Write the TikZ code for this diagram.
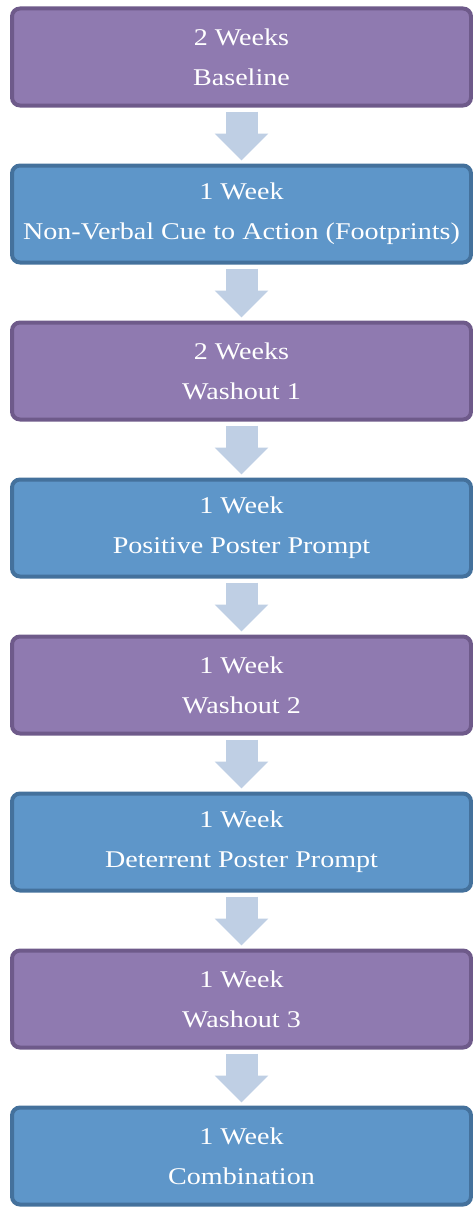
\documentclass[tikz,border=0pt]{standalone}
\usepackage{fontspec}
\setmainfont[FakeStretch=1.17]{Liberation Serif}
\usetikzlibrary{arrows.meta,positioning}
\definecolor{washfill}{HTML}{8F7AB0}
\definecolor{washline}{HTML}{6E5A8A}
\definecolor{cuefill}{HTML}{5E96C9}
\definecolor{cueline}{HTML}{44719C}
\definecolor{flow}{HTML}{BFCFE4}

\begin{document}
\begin{tikzpicture}[x=1pt,y=1pt,
  phase/.style={rounded corners=8pt,line width=4pt,minimum width=459pt,minimum height=97pt,inner sep=0pt,outer sep=0pt,align=center,text=white,font=\fontsize{24}{40}\selectfont},
  washout/.style={phase,fill=washfill,draw=washline},
  cue/.style={phase,fill=cuefill,draw=cueline},
  next/.style={flow,line width=32pt,-{Triangle[width=52pt,length=27pt]},shorten <=6pt,shorten >=5pt}]
\useasboundingbox (0,0) rectangle (472,-1207);
\node[washout] (base) at (241.5,-57) {2 Weeks\\Baseline};
\node[cue,below=60pt of base] (foot) {1 Week\\Non-Verbal Cue to Action (Footprints)};
\node[washout,below=60pt of foot] (wash1) {2 Weeks\\Washout 1};
\node[cue,below=60pt of wash1] (pos) {1 Week\\Positive Poster Prompt};
\node[washout,below=60pt of pos] (wash2) {1 Week\\Washout 2};
\node[cue,below=60pt of wash2] (det) {1 Week\\Deterrent Poster Prompt};
\node[washout,below=60pt of det] (wash3) {1 Week\\Washout 3};
\node[cue,below=60pt of wash3] (comb) {1 Week\\Combination};
\foreach \a/\b in {base/foot,foot/wash1,wash1/pos,pos/wash2,wash2/det,det/wash3,wash3/comb}
  \draw[next] (\a) -- (\b);
\end{tikzpicture}
\end{document}
